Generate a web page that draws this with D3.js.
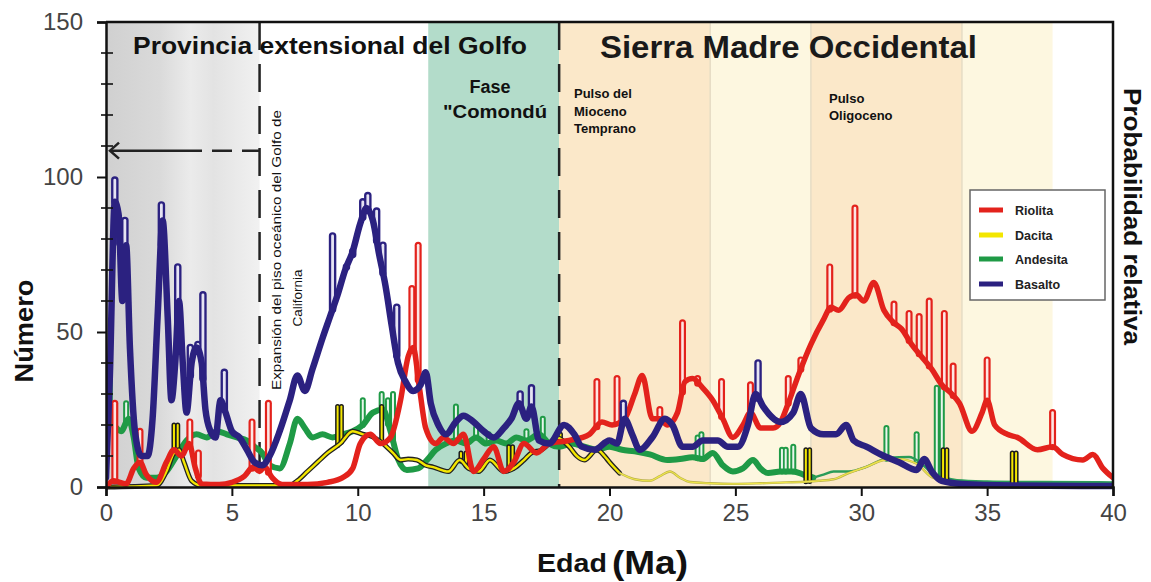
<!DOCTYPE html>
<html><head><meta charset="utf-8">
<script src="https://cdn.jsdelivr.net/npm/d3@7"></script>
<style>body{margin:0;background:#fff;}svg{display:block;font-family:"Liberation Sans",Arial,sans-serif;}</style>
</head><body><svg id="c" width="1151" height="582"></svg>
<script>
// ---------- data ----------
const xTicks=[0,5,10,15,20,25,30,35,40];
const yTicks=[0,50,100,150];
const yMinor=[10,20,30,40,60,70,80,90,110,120,130,140];
const seriesNames=["Riolita","Dacita","Andesita","Basalto"];

const basaltoCurve=[[0,3],[0.15,35],[0.35,92],[0.5,88],[0.65,60],[0.8,78],[0.95,45],[1.15,18],[1.4,10],[1.65,10],[1.85,22],[2.05,55],[2.25,86],[2.45,55],[2.6,28],[2.75,40],[2.9,60],[3.05,40],[3.2,24],[3.4,40],[3.6,45],[3.8,40],[3.95,25],[4.15,18],[4.35,16],[4.55,28],[4.75,24],[5.0,18],[5.3,16],[5.6,12],[5.9,8],[6.2,7],[6.5,10],[6.9,18],[7.3,28],[7.6,36],[7.9,31],[8.2,38],[8.6,48],[8.9,55],[9.2,62],[9.5,70],[9.8,76],[10.1,85],[10.35,90],[10.6,86],[10.85,75],[11.1,65],[11.35,52],[11.6,40],[11.9,34],[12.2,31],[12.5,33],[12.7,37],[12.9,27],[13.2,20],[13.5,17],[13.9,21],[14.2,23],[14.6,21],[15.0,18],[15.4,16],[15.8,19],[16.1,22],[16.4,27],[16.7,22],[16.9,26],[17.2,15],[17.6,14],[18.2,20],[18.6,17],[18.9,13],[19.4,12],[20.0,15],[20.3,14],[20.6,22],[20.9,17],[21.2,12],[21.7,16],[22.2,22],[22.5,20],[22.9,13],[23.3,13],[23.7,15],[24.3,15],[24.7,13],[25.1,13],[25.5,20],[25.8,30],[26.1,26],[26.8,21],[27.3,24],[27.6,30],[28.0,19],[28.5,17],[29.0,17],[29.4,20],[29.7,15],[30.2,13],[30.9,10],[31.5,8],[32.2,5.5],[32.5,9],[32.8,5],[33.2,2],[34,1],[36,0.5],[40,0.3]];
const basaltoSpikes=[[0.35,99],[0.55,86],[0.75,86],[2.2,91],[2.85,71],[3.35,45],[3.65,46],[3.85,62],[4.7,37],[9.0,81],[9.55,71],[9.8,75],[10.2,92],[10.4,94],[10.75,89],[11.0,78],[11.55,58],[16.45,30],[16.9,32],[20.55,27],[25.9,40]];

const riolitaCurve=[[0,0],[0.3,2],[0.8,1],[1.1,6],[1.35,8],[1.6,4],[2.0,1.5],[2.4,8],[2.7,12],[3.0,10],[3.3,14],[3.55,6],[3.8,1],[4.5,0.8],[5.0,1.5],[5.5,3.5],[5.85,6.5],[6.1,5],[6.3,6.5],[6.6,3],[7.0,0.8],[8.0,0.8],[8.8,1.5],[9.4,3],[9.8,6],[10.1,14],[10.5,17],[10.9,14],[11.3,16],[11.7,28],[12.0,42],[12.2,45],[12.45,32],[12.7,19],[13.1,14],[13.4,16],[13.8,14],[14.2,17],[14.6,5],[15.0,9],[15.4,13],[15.8,5],[16.2,8],[16.6,14],[17.1,11],[17.6,14],[18.4,15],[19.2,17],[19.7,21],[20.1,20],[20.6,22],[21.0,30],[21.3,36],[21.7,22],[22.0,22],[22.3,20],[22.7,24],[23.0,34],[23.3,35],[23.7,32],[24.1,28],[24.5,22],[24.9,16],[25.3,20],[25.6,24],[26.0,19],[26.5,19],[26.8,21],[27.1,27],[27.5,36],[28.0,46],[28.5,54],[28.8,58],[29.1,57],[29.5,61],[29.8,62],[30.1,60],[30.5,66],[30.9,57],[31.3,53],[31.6,51],[32.0,46],[32.4,42],[32.8,38],[33.2,33],[33.6,30],[33.9,27],[34.4,18],[34.8,24],[35.0,28],[35.3,20],[35.8,17],[36.2,16],[37.0,12],[37.6,13],[38.0,10.5],[38.8,8.7],[39.2,10.5],[39.6,6],[40,3]];
const riolitaSpikes=[[0.35,27],[1.35,18],[3.33,21],[3.67,11],[5.8,21],[6.45,27],[12.15,64],[12.4,78],[19.5,34],[20.3,35],[22.0,25],[22.9,53],[23.5,35],[24.45,34],[25.6,33],[27.1,35],[27.6,41],[28.75,71],[29.75,90],[31.3,59],[31.9,56],[32.3,55],[32.7,60],[33.3,56],[33.65,39],[35.0,41],[37.6,24]];

const andesitaCurve=[[0,10],[0.1,22],[0.3,20],[0.6,18],[0.9,22],[1.1,16],[1.3,6],[1.6,3],[2.0,3],[2.4,5],[2.8,10],[3.2,15],[3.6,17],[4.0,16],[4.4,18],[4.8,17],[5.2,16],[5.6,15],[5.9,13],[6.2,11],[6.5,7],[6.9,6],[7.3,14],[7.6,22],[7.9,19],[8.2,16],[8.6,17],[9.0,16],[9.4,17],[9.8,18],[10.2,20],[10.6,24],[11.0,25],[11.3,18],[11.6,9],[11.95,5.5],[12.4,6],[12.75,8.7],[13.1,12],[13.5,14],[13.9,15],[14.3,14],[14.7,16],[15.1,14],[15.5,15],[15.9,14],[16.3,16],[16.7,15],[17.2,17],[17.6,14],[18.0,13],[18.5,14],[19.0,13],[19.5,12],[20.0,13],[20.5,12],[21.0,11.5],[21.6,10.5],[22.3,8.7],[22.8,9],[23.3,9.6],[23.7,9],[24.1,11],[24.5,7],[24.9,5],[25.3,6],[25.7,8.7],[26.0,6],[26.3,4.5],[26.8,5],[27.3,5],[27.7,4],[28.1,3],[28.5,4],[28.9,5],[29.5,5],[30.2,6.5],[30.9,9],[31.5,9.6],[31.9,9.7],[32.4,7.5],[32.8,4.5],[33.3,3],[33.8,2.2],[35,1.8],[37,1.6],[40,1.5]];
const andesitaSpikes=[[0.15,38],[0.8,27],[10.2,28],[10.95,30],[11.2,28],[11.4,30],[13.9,26],[14.7,19],[15.2,17],[16.7,18],[17.35,22],[23.5,16],[23.65,17],[26.85,12],[27.0,12],[27.3,13],[31.0,19],[32.2,17],[33.0,32],[33.2,34]];

const dacitaCurve=[[0,0],[2.0,0.5],[2.4,5],[2.7,11],[2.9,12],[3.1,8],[3.4,2],[3.8,0.5],[7.3,0.5],[7.6,2],[8.0,5],[8.4,8],[8.8,11],[9.3,14],[9.8,18],[10.2,17],[10.5,16.5],[11.0,14],[11.4,11],[11.7,8.7],[12.0,9],[12.35,8.7],[12.7,7],[13.0,6.4],[13.6,5],[14.05,8.7],[14.4,6],[14.8,5],[15.25,8.7],[15.8,5],[16.2,6],[16.6,8.7],[16.9,11],[17.3,12],[17.6,14],[17.9,16],[18.4,13],[18.7,10],[19.0,8.7],[19.5,12],[19.8,10],[20.0,8],[20.4,4.5],[21.0,2.5],[21.6,2],[22.0,3.5],[22.4,5],[22.8,3],[23.2,1.6],[24.0,1.2],[24.9,1],[26.0,1.2],[27.0,1.5],[27.6,1.6],[28.3,2],[28.9,2.5],[29.5,4.5],[30.2,6.5],[30.9,8.7],[31.5,9],[32.2,7.5],[32.8,3.2],[33.6,1.6],[34.5,0.8],[40,0.5]];
const dacitaSpikes=[[2.7,20],[2.85,20],[9.2,26],[9.35,26],[10.95,26],[14.1,11],[14.3,11],[16.0,13],[16.15,13],[18.05,17],[27.8,12],[27.95,12],[33.25,12],[33.4,12],[36.0,11],[36.15,11]];

// annotation bands (Ma)
const bandFrom=[12.8,18,24,28,34];
const bandTo=[18,24,28,34,37.6];
const grayBand=[0,6.1];
const dashedAt=[6.1,18];
const arrowLevel=108.5;

// ---------- setup ----------
const svg=d3.select('#c');
const x=d3.scaleLinear().domain([0,40]).range([106,1113]);
const y=d3.scaleLinear().domain([0,150]).range([487,22]);
const defs=svg.append('defs');
const lg=defs.append('linearGradient').attr('id','gray').attr('x1',0).attr('x2',1).attr('y1',0).attr('y2',0);
[[0,'#d0d0d0'],[0.35,'#dadada'],[0.55,'#ebebeb'],[0.7,'#e3e3e3'],[1,'#f1f1f1']].forEach(s=>lg.append('stop').attr('offset',s[0]).attr('stop-color',s[1]));
defs.append('clipPath').attr('id','clip').append('rect').attr('x',x(0)).attr('y',y(150)).attr('width',x(40)-x(0)).attr('height',y(0)-y(150)+3);

const bandColors=['#b3dcca','#fbe8c9','#fdf7e0','#fbe8c9','#fdf7e0'];
const bg=svg.append('g');
bg.append('rect').attr('x',x(grayBand[0])).attr('y',y(150)).attr('width',x(grayBand[1])-x(grayBand[0])).attr('height',y(0)-y(150)).attr('fill','url(#gray)');
bg.selectAll('rect.b').data(bandFrom).join('rect').attr('class','b')
  .attr('x',(d)=>x(d)).attr('y',y(150)).attr('width',(d,i)=>x(bandTo[i])-x(d)).attr('height',y(0)-y(150)).attr('fill',(d,i)=>bandColors[i]);
bg.selectAll('line.t').data([24,28,34]).join('line').attr('class','t')
  .attr('x1',d=>x(d)).attr('x2',d=>x(d)).attr('y1',y(150)).attr('y2',y(0)).attr('stroke','#e6dcc4').attr('stroke-width',1.5);

// dashed lines
bg.selectAll('line.d').data(dashedAt).join('line').attr('class','d')
  .attr('x1',d=>x(d)).attr('x2',d=>x(d)).attr('y1',y(150)).attr('y2',y(0))
  .attr('stroke','#222').attr('stroke-width',2.5).attr('stroke-dasharray','28,14');
// arrow
bg.append('line').attr('x1',x(0)+4).attr('x2',x(dashedAt[0])).attr('y1',y(arrowLevel)).attr('y2',y(arrowLevel))
  .attr('stroke','#222').attr('stroke-width',2.5).attr('stroke-dasharray','92,10,20,10,22,10');
bg.append('path').attr('d',`M${x(0)+13},${y(arrowLevel)-8}L${x(0)+4},${y(arrowLevel)}L${x(0)+13},${y(arrowLevel)+8}`)
  .attr('fill','none').attr('stroke','#222').attr('stroke-width',2.5);

// ---------- series ----------
const plot=svg.append('g').attr('clip-path','url(#clip)');
const line=d3.line().x(d=>x(d[0])).y(d=>y(d[1])).curve(d3.curveMonotoneX);
const seg=d3.line().x(d=>x(d[0])).y(d=>y(d[1]));
function interp(c,a){for(let i=1;i<c.length;i++){if(a<=c[i][0]){const t=(a-c[i-1][0])/(c[i][0]-c[i-1][0]);return c[i-1][1]+t*(c[i][1]-c[i-1][1]);}}return c[c.length-1][1];}
function spikes(c,sp,outer,inner,wo,wi){
  const g=plot.append('g');
  g.selectAll('path').data(sp).join('path').attr('d',s=>seg([[s[0],interp(c,s[0])],[s[0],s[1]]]))
    .attr('fill','none').attr('stroke',outer).attr('stroke-width',wo).attr('stroke-linecap','round');
  const g2=plot.append('g');
  g2.selectAll('path').data(sp).join('path').attr('d',s=>seg([[s[0],interp(c,s[0])],[s[0],s[1]]]))
    .attr('fill','none').attr('stroke',inner).attr('stroke-width',wi).attr('stroke-linecap','round');
}
function curvePath(data,color,w){
  plot.append('path').attr('d',line(data)).attr('fill','none').attr('stroke',color).attr('stroke-width',w).attr('stroke-linejoin','round').attr('stroke-linecap','round');
}
const RED='#e3221c',YEL='#f3e600',GRN='#1f9a46',NAV='#2b2180';
// Andesita
spikes(andesitaCurve,andesitaSpikes,GRN,'#e9f5ec',6,2);
curvePath(andesitaCurve.filter(d=>d[0]<=28.1),GRN,6);
curvePath(andesitaCurve.filter(d=>d[0]>=28.1),'#2a9c58',2.4);
// Dacita
spikes(dacitaCurve,dacitaSpikes,'#1a1a1a',YEL,5,2);
const dThick=dacitaCurve.filter(d=>d[0]<=20.4), dThin=dacitaCurve.filter(d=>d[0]>=20.4);
curvePath(dThick,'#222',5); curvePath(dThick,YEL,2.4);
curvePath(dThin,'#b9b04a',2.4); curvePath(dThin,'#efe64a',1.2);
// Riolita
spikes(riolitaCurve,riolitaSpikes,RED,'#fde6e4',7,2.6);
curvePath(riolitaCurve,RED,5.5);
// Basalto
spikes(basaltoCurve,basaltoSpikes,NAV,'#e6e4f3',7.5,2.8);
curvePath(basaltoCurve,NAV,6.5);

// ---------- labels ----------
const T=svg.append('g').attr('fill','#111').attr('font-weight','bold');
T.append('text').attr('x',133).attr('y',54).attr('font-size',24).attr('textLength',394).attr('lengthAdjust','spacingAndGlyphs').text('Provincia extensional del Golfo');
T.append('text').attr('x',600).attr('y',58).attr('font-size',31).attr('textLength',377).attr('lengthAdjust','spacingAndGlyphs').attr('fill','#1a1a1a').text('Sierra Madre Occidental');
T.append('text').attr('x',490).attr('y',93).attr('font-size',18).attr('text-anchor','middle').text('Fase');
T.append('text').attr('x',495).attr('y',118).attr('font-size',18).attr('text-anchor','middle').attr('textLength',104).attr('lengthAdjust','spacingAndGlyphs').text('"Comondú');
['Pulso del','Mioceno','Temprano'].forEach((t,i)=>T.append('text').attr('x',574).attr('y',98+i*17.5).attr('font-size',13).text(t));
['Pulso','Oligoceno'].forEach((t,i)=>T.append('text').attr('x',829).attr('y',103+i*17).attr('font-size',13).text(t));
svg.append('text').attr('transform','translate(281,390) rotate(-90)').attr('font-size',13.5).attr('fill','#111')
  .attr('textLength',280).attr('lengthAdjust','spacingAndGlyphs').text('Expansión del piso oceánico del Golfo de');
svg.append('text').attr('transform','translate(302,298) rotate(-90)').attr('font-size',13.5).attr('fill','#111').attr('text-anchor','middle').text('California');

// ---------- legend ----------
const L=svg.append('g');
L.append('rect').attr('x',970).attr('y',190).attr('width',135).attr('height',110).attr('fill','#fff').attr('stroke','#666').attr('stroke-width',1.5);
const legColors=[RED,YEL,GRN,NAV];
const legY=[210,235,259,284];
seriesNames.forEach((n,i)=>{
  L.append('line').attr('x1',979).attr('x2',1003).attr('y1',legY[i]).attr('y2',legY[i]).attr('stroke',legColors[i]).attr('stroke-width',5);
  L.append('text').attr('x',1015).attr('y',legY[i]+5).attr('font-size',12.5).attr('font-weight','bold').attr('fill','#222').text(n);
});

// ---------- axes ----------
const ax=svg.append('g').attr('transform',`translate(0,${y(0)})`).call(d3.axisBottom(x).tickValues(xTicks).tickSize(9).tickPadding(8));
ax.selectAll('text').attr('font-size',24).attr('fill','#444').attr('font-family','"Liberation Sans",Arial,sans-serif');
const ay=svg.append('g').attr('transform',`translate(${x(0)},0)`).call(d3.axisLeft(y).tickValues(yTicks).tickSize(9).tickPadding(14));
ay.selectAll('text').attr('font-size',24).attr('fill','#444').attr('font-family','"Liberation Sans",Arial,sans-serif');
[ax,ay].forEach(a=>{a.select('.domain').attr('stroke','#111').attr('stroke-width',2.5);a.selectAll('.tick line').attr('stroke','#111').attr('stroke-width',2);});
svg.append('g').selectAll('line').data(yMinor).join('line').attr('x1',x(0)-5).attr('x2',x(0)+7).attr('y1',d=>y(d)).attr('y2',d=>y(d)).attr('stroke','#111').attr('stroke-width',1.6);
// frame
svg.append('path').attr('d',`M${x(0)},${y(150)}H${x(40)}V${y(0)}`).attr('fill','none').attr('stroke','#111').attr('stroke-width',2.5);

// axis titles
svg.append('text').attr('transform','translate(33,331) rotate(-90)').attr('text-anchor','middle').attr('font-size',26).attr('font-weight','bold').attr('fill','#111').attr('textLength',103).attr('lengthAdjust','spacingAndGlyphs').text('Número');
svg.append('text').attr('transform','translate(1124,88) rotate(90)').attr('font-size',23).attr('font-weight','bold').attr('fill','#111').attr('textLength',257).attr('lengthAdjust','spacingAndGlyphs').text('Probabilidad relativa');
svg.append('text').attr('x',537).attr('y',572).attr('font-size',26).attr('font-weight','bold').attr('fill','#111').attr('textLength',70).attr('lengthAdjust','spacingAndGlyphs').text('Edad');
svg.append('text').attr('x',612).attr('y',574).attr('font-size',33).attr('font-weight','bold').attr('fill','#111').attr('font-family','"Liberation Sans Narrow","Liberation Sans",Arial,sans-serif').attr('textLength',76).attr('lengthAdjust','spacingAndGlyphs').text('(Ma)');
</script></body></html>
